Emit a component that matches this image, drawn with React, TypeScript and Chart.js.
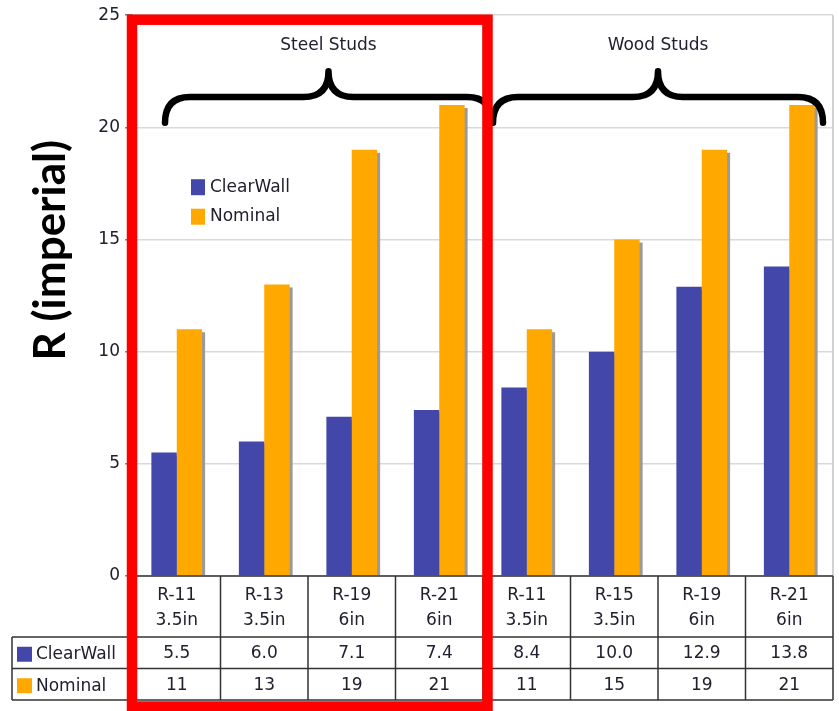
import React, { useEffect, useRef } from 'react';
import { Chart, registerables } from 'chart.js';

Chart.register(...registerables);

// ---------- data ----------
const categoryNames = ['R-11', 'R-13', 'R-19', 'R-21', 'R-11', 'R-15', 'R-19', 'R-21'];
const thicknesses = ['3.5in', '3.5in', '6in', '6in', '3.5in', '3.5in', '6in', '6in'];
const groupNames = ['Steel Studs', 'Wood Studs'];
const groupSizes = [4, 4];
const clearWallValues = [5.5, 6.0, 7.1, 7.4, 8.4, 10.0, 12.9, 13.8];
const nominalValues = [11, 13, 19, 21, 11, 15, 19, 21];
const seriesNames = ['ClearWall', 'Nominal'];
const tableDecimals = [1, 0];
const yTicks = [0, 5, 10, 15, 20, 25];
const axisTitle = 'R (imperial)';

// ---------- styles ----------
const seriesColors = ['#4347A9', '#FFA800'];
const FONT = '"DejaVu Sans", Verdana, sans-serif';
const TEXT = '#20202e';

const decorPlugin = {
  id: 'decor',
  beforeDatasetsDraw(chart: any) {
    const ctx = chart.ctx;
    ctx.save();
    ctx.fillStyle = '#9a9a9a';
    chart.data.datasets.forEach((_: any, di: number) => {
      const meta = chart.getDatasetMeta(di);
      meta.data.forEach((el: any) => {
        const { x, y, base, width } = el.getProps(['x', 'y', 'base', 'width'], true);
        ctx.fillRect(x - width / 2 + 3, y + 3, width, base - y - 3);
      });
    });
    ctx.restore();
  },
  afterDraw(chart: any) {
    const ctx = chart.ctx;
    const ca = chart.chartArea;
    const ys = chart.scales.y;
    const n = categoryNames.length;
    const cw = (ca.right - ca.left) / n;
    const bound = (i: number) => ca.left + i * cw;
    ctx.save();

    // plot frame: right border and group separators
    ctx.strokeStyle = '#c4c4c4';
    ctx.lineWidth = 1.5;
    ctx.beginPath();
    ctx.moveTo(ca.right, ca.top);
    ctx.lineTo(ca.right, ca.bottom);
    let acc = 0;
    groupSizes.forEach((g, gi) => {
      acc += g;
      if (gi < groupSizes.length - 1) {
        ctx.moveTo(bound(acc), ca.top);
        ctx.lineTo(bound(acc), ca.bottom);
      }
    });
    ctx.stroke();

    // braces + group titles
    const braceExt = [[32, -9], [10, 10]];
    let start = 0;
    groupSizes.forEach((g, gi) => {
      const xL = bound(start) + braceExt[gi][0];
      const xR = bound(start + g) - braceExt[gi][1];
      const xc = (xL + xR) / 2;
      const yB = ys.getPixelForValue(20.2);
      const yM = ys.getPixelForValue(21.35);
      const yT = ys.getPixelForValue(22.5);
      const r = 25;
      ctx.strokeStyle = '#000';
      ctx.lineWidth = 6.5;
      ctx.lineCap = 'round';
      ctx.lineJoin = 'round';
      ctx.beginPath();
      ctx.moveTo(xL, yB);
      ctx.quadraticCurveTo(xL, yM, xL + r, yM);
      ctx.lineTo(xc - r, yM);
      ctx.quadraticCurveTo(xc, yM, xc, yT);
      ctx.quadraticCurveTo(xc, yM, xc + r, yM);
      ctx.lineTo(xR - r, yM);
      ctx.quadraticCurveTo(xR, yM, xR, yB);
      ctx.stroke();
      ctx.fillStyle = TEXT;
      ctx.font = `17px ${FONT}`;
      ctx.textAlign = 'center';
      ctx.textBaseline = 'middle';
      ctx.fillText(groupNames[gi], xc, ca.top + 30);
      start += g;
    });

    // legend inside plot
    ctx.font = `17px ${FONT}`;
    ctx.textAlign = 'left';
    ctx.textBaseline = 'middle';
    seriesNames.forEach((s, i) => {
      const cy = ca.top + 172 + i * 29.5;
      ctx.fillStyle = seriesColors[i];
      ctx.fillRect(ca.left + 58, cy - 8, 14, 16);
      ctx.fillStyle = TEXT;
      ctx.fillText(s, ca.left + 77, cy);
    });

    // data table
    const tableLeft = 12;
    const labelBottom = ca.bottom + 61;
    const rowH = 31.5;
    const tableBottom = labelBottom + rowH * 2;
    ctx.strokeStyle = '#333';
    ctx.lineWidth = 1.5;
    ctx.lineCap = 'butt';
    ctx.beginPath();
    ctx.moveTo(ca.left, ca.bottom);
    ctx.lineTo(ca.right, ca.bottom);
    for (let r = 0; r <= 2; r++) {
      ctx.moveTo(tableLeft, labelBottom + r * rowH);
      ctx.lineTo(ca.right, labelBottom + r * rowH);
    }
    ctx.moveTo(tableLeft, labelBottom);
    ctx.lineTo(tableLeft, tableBottom);
    for (let i = 0; i <= n; i++) {
      ctx.moveTo(bound(i), ca.bottom);
      ctx.lineTo(bound(i), tableBottom);
    }
    ctx.stroke();

    ctx.fillStyle = TEXT;
    ctx.font = `17px ${FONT}`;
    ctx.textAlign = 'center';
    ctx.textBaseline = 'middle';
    const seriesData = [clearWallValues, nominalValues];
    for (let i = 0; i < n; i++) {
      const cx = bound(i) + cw / 2;
      ctx.fillText(categoryNames[i], cx, ca.bottom + 20);
      ctx.fillText(thicknesses[i], cx, ca.bottom + 45);
      seriesData.forEach((arr, si) => {
        ctx.fillText(arr[i].toFixed(tableDecimals[si]), cx, labelBottom + rowH * si + rowH / 2 + 1);
      });
    }
    ctx.textAlign = 'left';
    seriesNames.forEach((s, si) => {
      const cy = labelBottom + rowH * si + rowH / 2 + 2;
      ctx.fillStyle = seriesColors[si];
      ctx.fillRect(tableLeft + 5, cy - 8, 15, 15);
      ctx.fillStyle = TEXT;
      ctx.fillText(s, tableLeft + 24, cy);
    });

    // y axis title
    ctx.save();
    ctx.translate(51, ca.top + 235);
    ctx.rotate(-Math.PI / 2);
    ctx.font = `bold 44px Lato, "Open Sans", sans-serif`;
    ctx.fillStyle = '#000';
    ctx.textAlign = 'center';
    ctx.textBaseline = 'middle';
    ctx.fillText(axisTitle, 0, 0);
    ctx.restore();

    // red highlight rectangle around first group
    ctx.strokeStyle = '#FF0000';
    ctx.lineWidth = 10.5;
    ctx.lineJoin = 'miter';
    const rl = ca.left - 1;
    const rr = bound(groupSizes[0]) + 4.5;
    const rt = ca.top + 4.5;
    const rb = chart.height - 4.5;
    ctx.strokeRect(rl, rt, rr - rl, rb - rt);

    ctx.restore();
  },
};

export default function App() {
  const ref = useRef<HTMLCanvasElement>(null);
  useEffect(() => {
    if (!ref.current) return;
    const chart = new Chart(ref.current, {
      type: 'bar',
      data: {
        labels: categoryNames.map((c, i) => [c, thicknesses[i]]),
        datasets: [
          { label: seriesNames[0], data: clearWallValues, backgroundColor: seriesColors[0] },
          { label: seriesNames[1], data: nominalValues, backgroundColor: seriesColors[1] },
        ],
      },
      options: {
        responsive: false,
        animation: false,
        devicePixelRatio: 1,
        layout: { padding: { left: 0, top: 15, right: 6, bottom: 135 } },
        datasets: { bar: { categoryPercentage: 0.58, barPercentage: 1.0 } },
        plugins: { legend: { display: false }, tooltip: { enabled: false } },
        scales: {
          x: { display: false },
          y: {
            min: 0,
            max: 25,
            afterFit: (s: any) => { s.width = 133; },
            afterBuildTicks: (s: any) => { s.ticks = yTicks.map((v) => ({ value: v })); },
            grid: { color: '#d9d9d9', lineWidth: 1.5, tickColor: '#808080', tickLength: 8 },
            border: { display: true, color: '#b0b0b0' },
            ticks: { color: TEXT, font: { family: FONT, size: 17 }, padding: 5 },
          },
        },
      },
      plugins: [decorPlugin],
    } as any);
    return () => chart.destroy();
  }, []);
  return (
    <div style={{ position: 'fixed', left: 0, top: 0, width: 839, height: 711, background: '#fff' }}>
      <canvas ref={ref} width={839} height={711} style={{ display: 'block', width: 839, height: 711 }} />
    </div>
  );
}
